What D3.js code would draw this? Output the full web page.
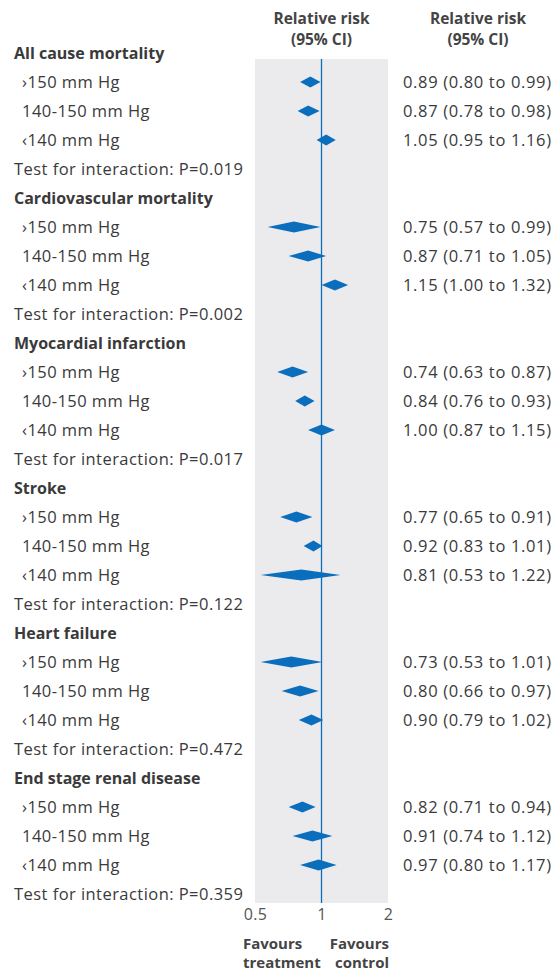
<!DOCTYPE html>
<html>
<head>
<meta charset="utf-8">
<script src="https://cdn.jsdelivr.net/npm/d3@7"></script>
<style>
  body { margin: 0; background: #fff; }
  svg text { font-family: "Open Sans", "Noto Sans", sans-serif; }
</style>
</head>
<body>
<svg id="chart"></svg>
<script>
var width = 555;
var height = 974;

// data
var outcomes = ["All cause mortality", "Cardiovascular mortality", "Myocardial infarction",
  "Stroke", "Heart failure", "End stage renal disease"];
var subgroups = ["\u203A150 mm Hg", "140-150 mm Hg", "\u2039140 mm Hg"];
var rr = [[0.89, 0.87, 1.05], [0.75, 0.87, 1.15], [0.74, 0.84, 1.00],
  [0.77, 0.92, 0.81], [0.73, 0.80, 0.90], [0.82, 0.91, 0.97]];
var lower = [[0.80, 0.78, 0.95], [0.57, 0.71, 1.00], [0.63, 0.76, 0.87],
  [0.65, 0.83, 0.53], [0.53, 0.66, 0.79], [0.71, 0.74, 0.80]];
var upper = [[0.99, 0.98, 1.16], [0.99, 1.05, 1.32], [0.87, 0.93, 1.15],
  [0.91, 1.01, 1.22], [1.01, 0.97, 1.02], [0.94, 1.12, 1.17]];
var pInteraction = ["0.019", "0.002", "0.017", "0.122", "0.472", "0.359"];
var ticks = [0.5, 1, 2];

var blue = "#0a6ebd";
var textCol = "#3a3a3a";

var svg = d3.select("#chart")
  .attr("width", width)
  .attr("height", height);

var x = d3.scaleLog().domain([0.5, 2]).range([255, 388]);

// one row per line: heading, 3 subgroups, test
var rows = [];
outcomes.forEach(function (o, i) {
  rows.push({type: "head", label: o, g: i});
  subgroups.forEach(function (s, j) {
    rows.push({type: "sub", label: s, g: i, j: j,
      rr: rr[i][j], lo: lower[i][j], hi: upper[i][j]});
  });
  rows.push({type: "test", label: "Test for interaction: P=" + pInteraction[i], g: i});
});

var y = d3.scalePoint()
  .domain(d3.range(rows.length))
  .range([53, 53 + 29 * (rows.length - 1)]);

// panel
svg.append("rect")
  .attr("x", x(0.5))
  .attr("y", 59)
  .attr("width", x(2) - x(0.5))
  .attr("height", 903 - 59)
  .attr("fill", "#ebebee");

svg.append("line")
  .attr("x1", x(1)).attr("x2", x(1))
  .attr("y1", 59).attr("y2", 903)
  .attr("stroke", blue)
  .attr("stroke-width", 1.3);

// headers
var hdr = [{cx: x(1), lines: ["Relative risk", "(95% CI)"]},
           {cx: 478, lines: ["Relative risk", "(95% CI)"]}];
hdr.forEach(function (h) {
  h.lines.forEach(function (l, k) {
    svg.append("text")
      .attr("x", h.cx)
      .attr("y", 24 + k * 21)
      .attr("text-anchor", "middle")
      .attr("font-size", "15.5px")
      .attr("font-weight", "bold")
      .attr("fill", "#444")
      .text(l);
  });
});

// left labels
svg.selectAll(".lab")
  .data(rows)
  .enter().append("text")
  .attr("class", "lab")
  .attr("x", function (d) { return d.type == "sub" ? 22 : 14; })
  .attr("y", function (d, i) { return y(i); })
  .attr("dy", "0.35em")
  .attr("font-size", function (d) { return d.type == "head" ? "16px" : "16.5px"; })
  .attr("letter-spacing", function (d) { return d.type == "head" ? 0 : 0.45; })
  .attr("font-weight", function (d) { return d.type == "head" ? "bold" : "normal"; })
  .attr("fill", textCol)
  .text(function (d) { return d.label; });

var subs = rows.map(function (d, i) { d.i = i; return d; })
  .filter(function (d) { return d.type == "sub"; });

// diamonds
var h = 5.5;
svg.selectAll(".dia")
  .data(subs)
  .enter().append("path")
  .attr("class", "dia")
  .attr("fill", blue)
  .attr("d", function (d) {
    var cy = y(d.i);
    return "M" + x(d.lo) + "," + cy + "L" + x(d.rr) + "," + (cy - h) +
      "L" + x(d.hi) + "," + cy + "L" + x(d.rr) + "," + (cy + h) + "Z";
  });

// estimates
svg.selectAll(".est")
  .data(subs)
  .enter().append("text")
  .attr("class", "est")
  .attr("x", 403)
  .attr("y", function (d) { return y(d.i); })
  .attr("dy", "0.35em")
  .attr("font-size", "16.5px")
  .attr("letter-spacing", 0.65)
  .attr("fill", textCol)
  .text(function (d) {
    return d.rr.toFixed(2) + " (" + d.lo.toFixed(2) + " to " + d.hi.toFixed(2) + ")";
  });

// axis
var axis = d3.axisBottom(x).tickValues(ticks).tickSize(0).tickFormat(d3.format("~g"));
var ax = svg.append("g")
  .attr("transform", "translate(0,903)")
  .call(axis);
ax.select(".domain").remove();
ax.selectAll("text")
  .attr("font-size", "16px")
  .attr("letter-spacing", 0.4)
  .attr("fill", "#555")
  .attr("dy", "0.71em")
  .attr("y", 6);

// favours
var fav = [{x: 243, anchor: "start", lines: ["Favours", "treatment"]},
           {x: 389, anchor: "end", lines: ["Favours", "control"]}];
fav.forEach(function (f) {
  f.lines.forEach(function (l, k) {
    svg.append("text")
      .attr("x", f.x)
      .attr("y", 949 + k * 19)
      .attr("text-anchor", f.anchor)
      .attr("font-size", "15px")
      .attr("font-weight", "bold")
      .attr("fill", "#444")
      .text(l);
  });
});
</script>
</body>
</html>
